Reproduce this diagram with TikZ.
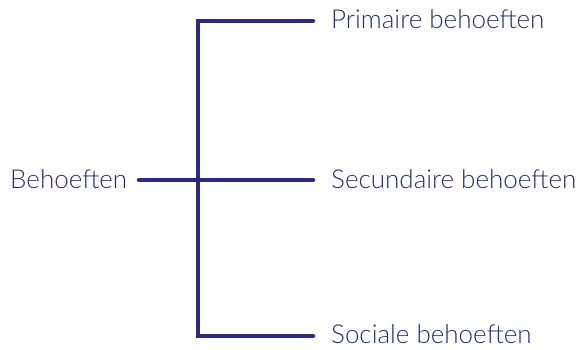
\documentclass[tikz,border=0pt]{standalone}
\usepackage{fontspec}
\setmainfont{Lato Light}
\definecolor{navy}{HTML}{2B2A80}
\begin{document}
\begin{tikzpicture}[x=1pt,y=-1pt,
  conn/.style={draw=navy,line width=4.5pt,line cap=round,line join=miter},
  lbl/.style={text=navy,font=\fontsize{26}{31}\selectfont,inner sep=0pt,anchor=base west}]
\useasboundingbox (0,0) rectangle (581,349);
\coordinate (root) at (139,180);
\coordinate (j) at (198,180);
\coordinate (t) at (198,21);
\coordinate (b) at (198,336);
\coordinate (e1) at (313,21);
\coordinate (e2) at (313,180);
\coordinate (e3) at (313,336);
\node[lbl] (beh) at (10,188) {Behoeften};
\node[lbl] (p) at (331,28) {Primaire behoeften};
\node[lbl] (s) at (331,188) {Secundaire behoeften};
\node[lbl] (so) at (331,343) {Sociale behoeften};
\draw[conn] (root) -- (j);
\draw[conn] (e1) -- (t) -- (b) -- (e3);
\draw[conn] (j) -- (e2);
\end{tikzpicture}
\end{document}
